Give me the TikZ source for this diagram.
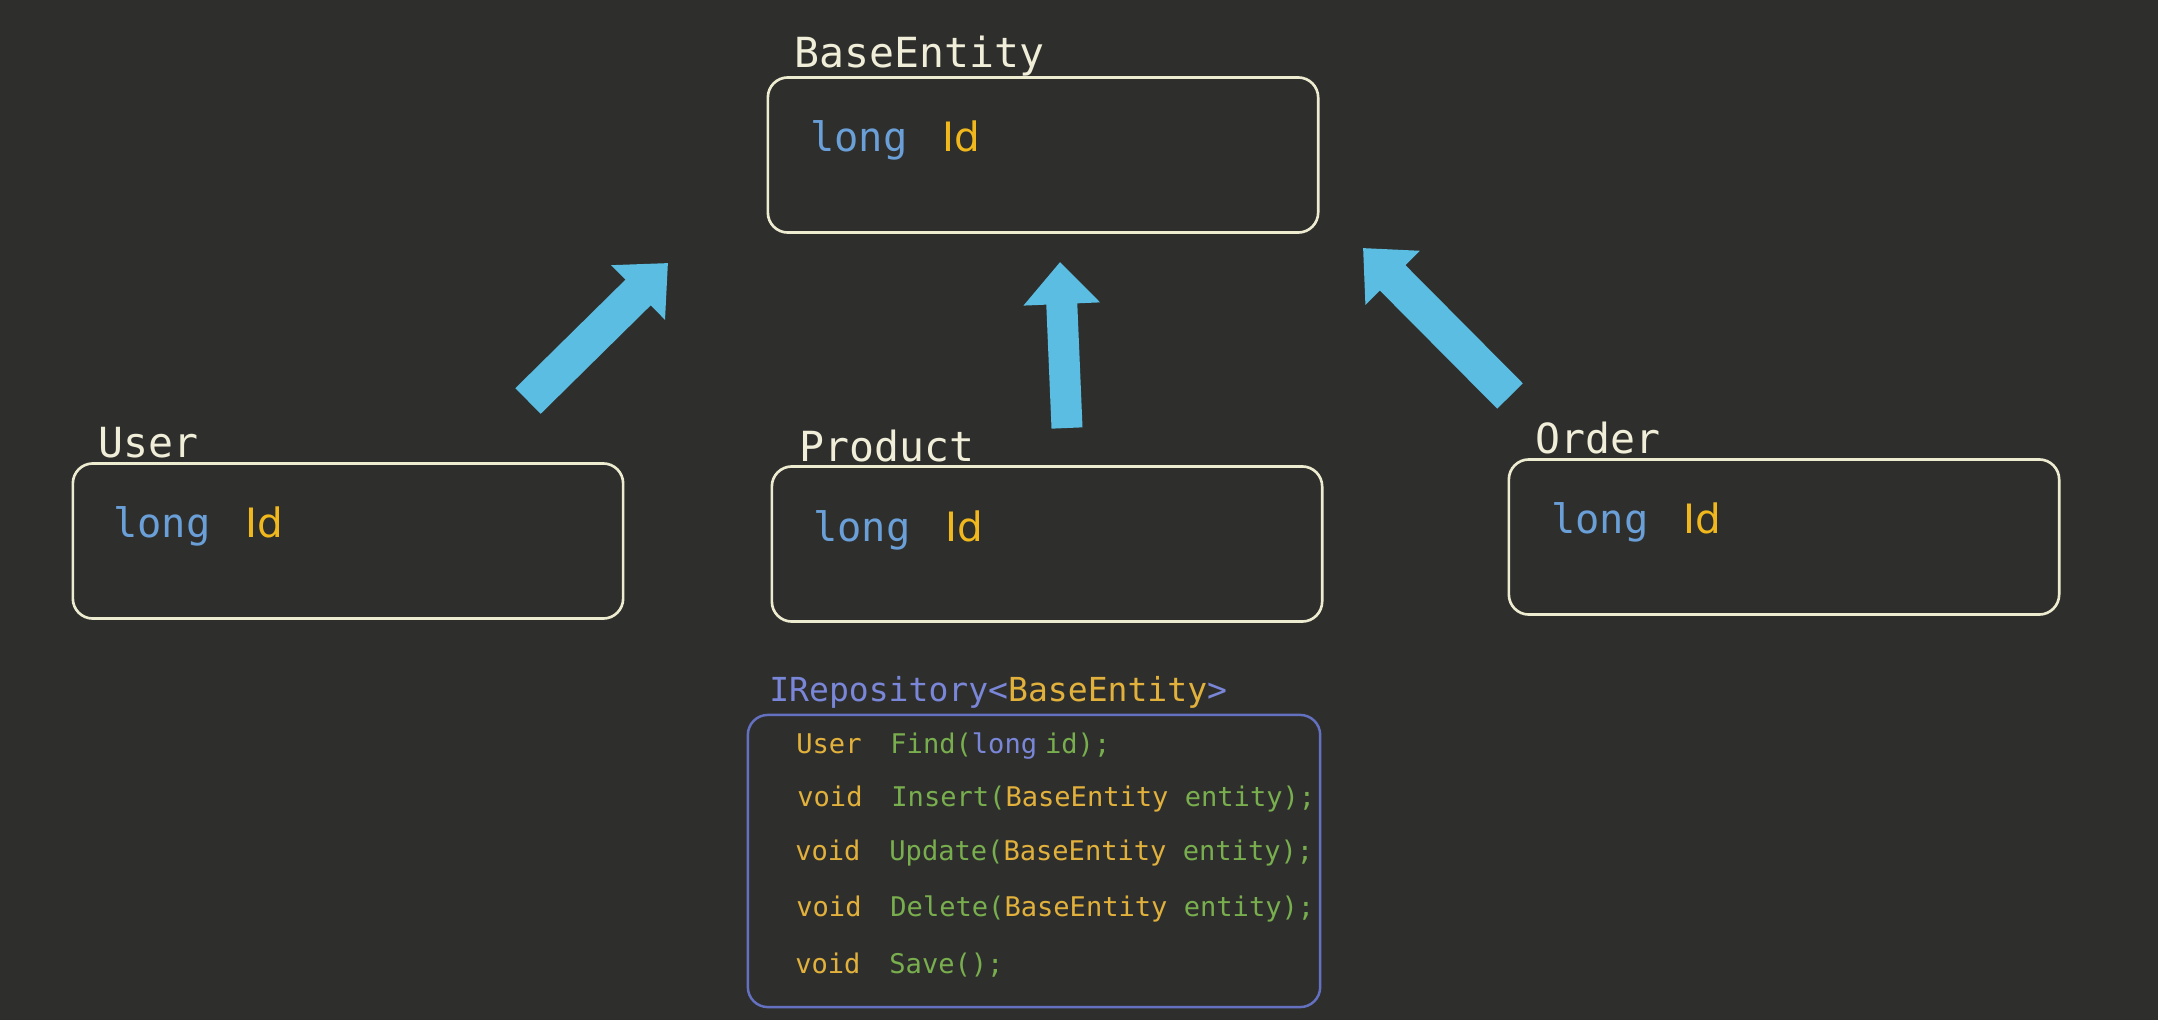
\documentclass[tikz,border=0pt]{standalone}
\usepackage{fontspec}
\setmonofont{DejaVu Sans Mono}
\newfontfamily\idfont{DejaVu Sans}
\usepackage{tikz}
\usetikzlibrary{arrows.meta}
\usetikzlibrary{positioning}

\definecolor{bgcol}{HTML}{2E2F2D}
\definecolor{boxline}{HTML}{EDEBD0}
\definecolor{titlecol}{HTML}{F0EED8}
\definecolor{longblue}{HTML}{6A9FD8}
\definecolor{idyellow}{HTML}{F0B81C}
\definecolor{repoblue}{HTML}{7A86D8}
\definecolor{repoline}{HTML}{6470C0}
\definecolor{codeyellow}{HTML}{E2B13C}
\definecolor{codegreen}{HTML}{79AE4E}
\definecolor{arrowblue}{HTML}{5BBDE2}

\newcommand{\fieldtext}{{\color{longblue}long}\hspace{0.35cm}{\idfont\color{idyellow}Id}}
\newcommand{\rettype}[1]{\makebox[0.94cm][l]{\color{codeyellow}#1}}

\begin{document}
\begin{tikzpicture}[x=0.01cm,y=0.01cm,every node/.style={inner sep=0pt},
    entity/.style={draw=boxline,line width=0.75pt,rounded corners=0.2cm,minimum width=5.5cm,minimum height=1.55cm},
    title/.style={text=titlecol,font=\ttfamily\fontsize{11.8}{14}\selectfont},
    field/.style={font=\ttfamily\fontsize{11.5}{14}\selectfont},
    code/.style={font=\ttfamily\fontsize{7.7}{9}\selectfont},
    inherit/.style={draw=arrowblue,line width=0.36cm,-{Triangle[length=0.42cm,width=0.74cm]}}]
    \fill[bgcol] (0,0) rectangle (2158,1020);
    %entities
    \node[entity] (base) at (1043,865) {};
    \node[entity] (user) at (348,479) {};
    \node[entity] (product) at (1047,476) {};
    \node[entity] (order) at (1784,483) {};
    \node[title,above right=0.09cm and 0.27cm of base.north west,anchor=base west] (basetitle) {BaseEntity};
    \node[title,above right=0.05cm and 0.26cm of user.north west,anchor=base west] (usertitle) {User};
    \node[title,above right=0.04cm and 0.28cm of product.north west,anchor=base west] (producttitle) {Product};
    \node[title,above right=0.05cm and 0.27cm of order.north west,anchor=base west] (ordertitle) {Order};
    \node[field,below right=0.75cm and 0.43cm of base.north west,anchor=base west] (baseid) {\fieldtext};
    \node[field,below right=0.75cm and 0.41cm of user.north west,anchor=base west] (userid) {\fieldtext};
    \node[field,below right=0.76cm and 0.42cm of product.north west,anchor=base west] (productid) {\fieldtext};
    \node[field,below right=0.75cm and 0.43cm of order.north west,anchor=base west] (orderid) {\fieldtext};
    %inheritance
    \coordinate (usertail) at (528,619);
    \coordinate (userhead) at (668,757);
    \coordinate (producttail) at (1067,592);
    \coordinate (producthead) at (1060,758);
    \coordinate (ordertail) at (1510,624);
    \coordinate (orderhead) at (1363,772);
    \draw[inherit] (usertail) -- (userhead);
    \draw[inherit,line width=0.31cm] (producttail) -- (producthead);
    \draw[inherit] (ordertail) -- (orderhead);
    %repository
    \node[entity,draw=repoline,line width=0.7pt,minimum width=5.72cm,minimum height=2.92cm] (repo) at (1034,159) {};
    \node[code,font=\ttfamily\fontsize{9.4}{11}\selectfont,above right=0.12cm and 0.22cm of repo.north west,anchor=base west] (repotitle) {{\color{repoblue}IRepository<}{\color{codeyellow}BaseEntity}{\color{repoblue}>}};
    \node[code,below right=0.40cm and 0.49cm of repo.north west,anchor=base west] (find) {\rettype{User}{\color{codegreen}Find(}{\color{repoblue}long}\hspace{0.08cm}{\color{codegreen}id);}};
    \node[code,below right=0.93cm and 0.50cm of repo.north west,anchor=base west] (insert) {\rettype{void}{\color{codegreen}Insert(}{\color{codeyellow}BaseEntity} {\color{codegreen}entity);}};
    \node[code,below right=1.47cm and 0.48cm of repo.north west,anchor=base west] (update) {\rettype{void}{\color{codegreen}Update(}{\color{codeyellow}BaseEntity} {\color{codegreen}entity);}};
    \node[code,below right=2.03cm and 0.49cm of repo.north west,anchor=base west] (delete) {\rettype{void}{\color{codegreen}Delete(}{\color{codeyellow}BaseEntity} {\color{codegreen}entity);}};
    \node[code,below right=2.60cm and 0.48cm of repo.north west,anchor=base west] (save) {\rettype{void}{\color{codegreen}Save();}};
\end{tikzpicture}
\end{document}
